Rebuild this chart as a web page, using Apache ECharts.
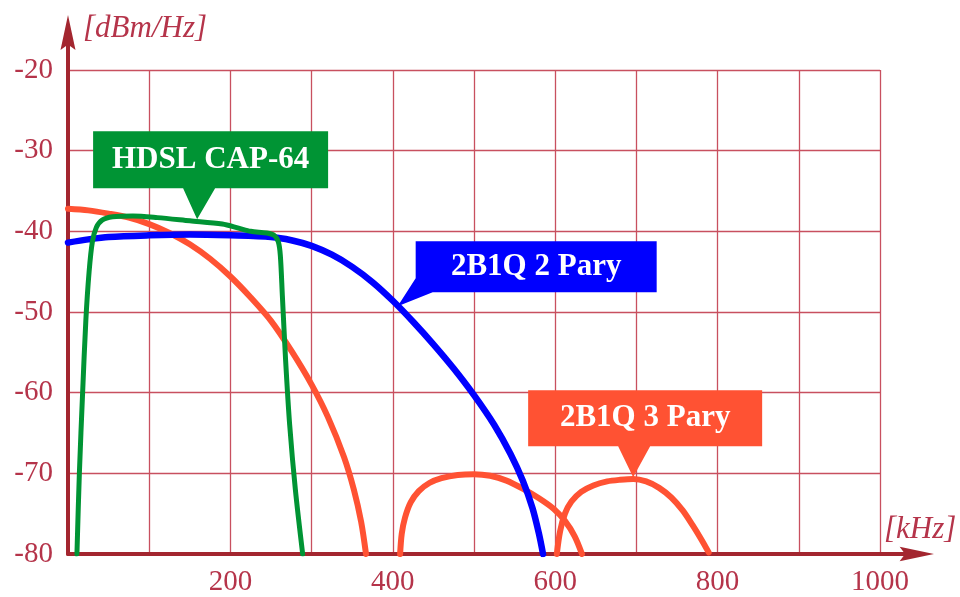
<!DOCTYPE html>
<html><head><meta charset="utf-8">
<script src="https://cdn.jsdelivr.net/npm/echarts@6/dist/echarts.min.js"></script>
<style>html,body{margin:0;padding:0;background:#fff}#c{width:960px;height:597px}</style>
</head><body><div id="c"></div>
<script>
// ---- data (kHz, dBm/Hz) ----
const xTickLabels = [200, 400, 600, 800, 1000];
const yTickLabels = [-80, -70, -60, -50, -40, -30, -20];

const blueName = '2B1Q 2 Pary';
const blueX = [0, 25, 50, 100, 150, 200, 250, 275, 300, 325, 350, 375, 400, 425, 450, 475, 500, 525, 545, 560, 572, 580, 585];
const blueY = [-41.4, -41.0, -40.7, -40.5, -40.4, -40.5, -40.7, -41.1, -41.8, -42.9, -44.4, -46.3, -48.6, -51.2, -54.0, -57.0, -60.3, -64.0, -67.6, -70.9, -74.3, -77.5, -80];

const greenName = 'HDSL CAP-64';
const greenX = [11, 14, 18, 22, 26, 30, 35, 42, 55, 80, 110, 150, 190, 210, 225, 245, 254, 259, 261.5, 264, 268, 273, 280, 289];
const greenY = [-80, -70, -60, -51, -45, -41.3, -39.5, -38.6, -38.2, -38.1, -38.3, -38.7, -39.1, -39.6, -40.0, -40.2, -40.5, -41.3, -43, -48, -56, -64, -72, -80];

const orangeName = '2B1Q 3 Pary';
const orange1X = [0, 25, 50, 75, 100, 125, 150, 175, 200, 225, 250, 275, 300, 320, 340, 352, 361, 367];
const orange1Y = [-37.2, -37.4, -37.8, -38.3, -39.1, -40.2, -41.6, -43.4, -45.6, -48.2, -51.1, -54.8, -59.0, -63.0, -68.0, -72.0, -76.0, -80];
const orange2X = [409, 411, 415, 422, 432, 445, 460, 480, 500, 520, 540, 560, 580, 598, 612, 624, 633];
const orange2Y = [-80, -77.5, -75.5, -73.6, -72.2, -71.2, -70.6, -70.2, -70.1, -70.3, -70.9, -71.9, -73.1, -74.4, -75.9, -77.8, -80];
const orange3X = [602, 606, 612, 620, 632, 647, 664, 680, 696, 712, 728, 743, 757, 769, 780, 789];
const orange3Y = [-80, -77.2, -75.0, -73.5, -72.3, -71.5, -71.0, -70.8, -70.7, -71.0, -71.8, -73.0, -74.6, -76.4, -78.2, -79.8];

// callout anchor points (data coords of the pointer tips)
const greenAnchor = [159, -38.5];
const blueAnchor = [406, -49.3];
const orangeAnchor = [696, -70.5];

// ---- build ----
const zip = (xs, ys) => xs.map((x, i) => [x, ys[i]]);
const SERIF = '"Liberation Serif", "DejaVu Serif", serif';
const GREEN = '#009434', BLUE = '#0000ff', ORANGE = '#ff5233';
const AXIS = '#a3262f', LABEL = '#b5344a';

function callout(name, anchor, color, path, size, offset, labelOffset) {
  return {
    silent: true,
    symbol: 'path://' + path,
    symbolSize: size,
    symbolOffset: offset,
    itemStyle: { color: color },
    label: {
      show: true, position: 'inside', offset: labelOffset,
      color: '#fff', fontSize: 31, fontWeight: 'bold', fontFamily: SERIF,
      formatter: name
    },
    data: [{ coord: anchor, name: name }]
  };
}

function lineSeries(name, data, color, width, z, mp) {
  const s = {
    name: name, type: 'line', data: data, showSymbol: false, symbol: 'none',
    smooth: 0.3, z: z,
    lineStyle: { color: color, width: width, cap: 'round', join: 'round' },
    itemStyle: { color: color }
  };
  if (mp) s.markPoint = mp;
  return s;
}

const arrowPath = 'path://M7.5,0 L15,35 L9.5,31 L9.5,55 L5.5,55 L5.5,31 L0,35 Z';

const option = {
  animation: false,
  backgroundColor: '#fff',
  grid: { left: 68, right: 80, top: 70, bottom: 40, containLabel: false },
  xAxis: {
    type: 'value', min: 0, max: 1000, interval: 100,
    axisLine: { show: true, onZero: false, lineStyle: { color: AXIS, width: 4 },
      symbol: ['none', arrowPath], symbolSize: [15, 54], symbolOffset: [0, 27] },
    axisTick: { show: false },
    axisLabel: { margin: 14, color: LABEL, fontSize: 29, fontFamily: SERIF,
      formatter: v => xTickLabels.indexOf(v) >= 0 ? String(v) : '' },
    splitLine: { show: true, lineStyle: { color: '#c8505f', width: 1.3 } }
  },
  yAxis: {
    type: 'value', min: -80, max: -20, interval: 10,
    axisLine: { show: true, onZero: false, lineStyle: { color: AXIS, width: 4 },
      symbol: ['none', arrowPath], symbolSize: [15, 55], symbolOffset: [0, 27.5] },
    axisTick: { show: false },
    axisLabel: { margin: 15, color: LABEL, fontSize: 29, fontFamily: SERIF,
      formatter: v => yTickLabels.indexOf(v) >= 0 ? String(v) : '' },
    splitLine: { show: true, lineStyle: { color: '#c8505f', width: 1.3 } }
  },
  graphic: [
    { type: 'text', left: 83, top: 13, z: 100,
      style: { text: '[dBm/Hz]', font: 'italic 31px ' + SERIF, fill: LABEL } },
    { type: 'text', left: 884, top: 514, z: 100,
      style: { text: '[kHz]', font: 'italic 31px ' + SERIF, fill: LABEL } }
  ],
  series: [
    lineSeries(orangeName, zip(orange1X, orange1Y), ORANGE, 6, 2),
    lineSeries(orangeName, zip(orange2X, orange2Y), ORANGE, 6, 2),
    lineSeries(orangeName, zip(orange3X, orange3Y), ORANGE, 6, 2,
      callout(orangeName, orangeAnchor, ORANGE,
        'M0,0 L234,0 L234,56 L122,56 L105,87 L90,56 L0,56 Z', [234, 87], [12, -43.5], [0, -15.5])),
    lineSeries(blueName, zip(blueX, blueY), BLUE, 6.5, 3,
      callout(blueName, blueAnchor, BLUE,
        'M18,0 L259,0 L259,51 L35,51 L0,65 L18,37 Z', [259, 65], [129.5, -32.5], [9, -7])),
    lineSeries(greenName, zip(greenX, greenY), GREEN, 5, 4,
      callout(greenName, greenAnchor, GREEN,
        'M0,0 L235,0 L235,57 L122,57 L104,88 L90,57 L0,57 Z', [235, 88], [13.5, -44], [0, -15.5]))
  ]
};

const chart = echarts.init(document.getElementById('c'), null, { renderer: 'canvas' });
chart.setOption(option);
</script>
</body></html>
